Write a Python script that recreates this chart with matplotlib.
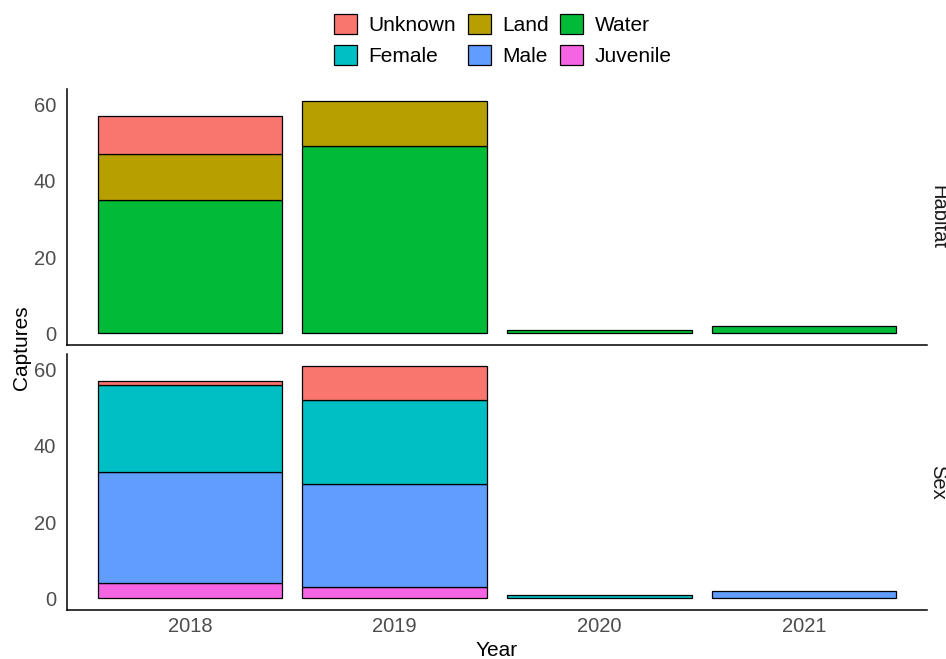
import numpy as np
import matplotlib.pyplot as plt
from matplotlib.patches import Patch

plt.rcParams['font.family'] = ['Liberation Sans', 'DejaVu Sans']

years = ['2018', '2019', '2020', '2021']
# Habitat panel
hab_water = [35, 49, 1, 2]
hab_land = [12, 12, 0, 0]
hab_unknown = [10, 0, 0, 0]
# Sex panel
sex_juvenile = [4, 3, 0, 0]
sex_male = [29, 27, 0, 2]
sex_female = [23, 22, 1, 0]
sex_unknown = [1, 9, 0, 0]

colors = {'Unknown': '#F8766D', 'Land': '#B79F00', 'Water': '#00BA38',
          'Female': '#00BFC4', 'Male': '#619CFF', 'Juvenile': '#F564E3'}

W, H = 946, 659
fig = plt.figure(figsize=(W / 100, H / 100), dpi=100)

def box(l, t, r, b):
    return [l / W, 1 - b / H, (r - l) / W, (b - t) / H]

ax_top = fig.add_axes(box(67, 89, 927, 345))
ax_bot = fig.add_axes(box(67, 354, 927, 610))

x = np.arange(1, len(years) + 1)

def stack(ax, layers):
    bottom = np.zeros(len(years))
    for name, vals in layers:
        vals = np.array(vals, dtype=float)
        m = vals > 0
        ax.bar(x[m], vals[m], bottom=bottom[m], width=0.9,
               color=colors[name], edgecolor='black', linewidth=0.9)
        bottom += vals

stack(ax_top, [('Water', hab_water), ('Land', hab_land), ('Unknown', hab_unknown)])
stack(ax_bot, [('Juvenile', sex_juvenile), ('Male', sex_male),
               ('Female', sex_female), ('Unknown', sex_unknown)])

for ax in (ax_top, ax_bot):
    ax.set_xlim(0.4, 4.6)
    ax.set_ylim(-3.05, 64.05)
    ax.set_yticks([0, 20, 40, 60])
    for s in ('top', 'right'):
        ax.spines[s].set_visible(False)
    for s in ('left', 'bottom'):
        ax.spines[s].set_linewidth(1.1)
    ax.tick_params(length=0, labelsize=14.5, labelcolor='#4D4D4D', pad=8)

ax_top.set_xticks([])
ax_bot.set_xticks(x)
ax_bot.set_xticklabels(years)
ax_bot.tick_params(axis='x', pad=5)

fig.text(497 / W, 1 - 650 / H, 'Year', ha='center', va='center', fontsize=15)
fig.text(22 / W, 1 - 348 / H, 'Captures', ha='center', va='center',
         rotation=90, fontsize=15)
fig.text(938 / W, 1 - 217 / H, 'Habitat', ha='center', va='center',
         rotation=-90, fontsize=14.5, color='#1A1A1A')
fig.text(938 / W, 1 - 482 / H, 'Sex', ha='center', va='center',
         rotation=-90, fontsize=14.5, color='#1A1A1A')

order = ['Unknown', 'Female', 'Land', 'Male', 'Water', 'Juvenile']
handles = [Patch(facecolor=colors[n], edgecolor='black', linewidth=0.9, label=n)
           for n in order]
fig.legend(handles=handles, ncol=3, loc='upper center',
           bbox_to_anchor=(503 / W, 1 + 5 / H), frameon=False, fontsize=15,
           handlelength=1.1, handleheight=1.1, handletextpad=0.55,
           columnspacing=0.55, labelspacing=0.5)

fig.savefig('out.png', dpi=100)
